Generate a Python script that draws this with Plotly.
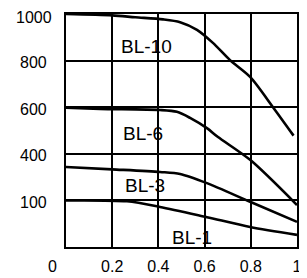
import numpy as np
import plotly.graph_objects as go

# ---- data ----
x_ticks = [0.2, 0.4, 0.6, 0.8, 1]
x_tick_labels = ["0.2", "0.4", "0.6", "0.8", "1"]
y_tick_values = [0, 100, 400, 600, 800, 1000]          # nonlinear, evenly spaced gridlines
y_tick_labels = ["", "100", "400", "600", "800", "1000"]

bl10_x = [0, 0.2, 0.3, 0.42, 0.494, 0.567, 0.636, 0.71, 0.797, 0.896, 0.985]
bl10_y = [1000, 994, 986, 977, 965, 932, 876, 802, 730, 600, 478]

bl6_x = [0, 0.147, 0.407, 0.48, 0.537, 0.61, 0.658, 0.797, 1.0]
bl6_y = [598, 593, 588, 580, 554, 510, 472, 361, 90]

bl3_x = [0, 0.2, 0.407, 0.494, 0.61, 0.797, 1.0]
bl3_y = [315, 300, 283, 270, 211, 97, 54]

bl1_x = [0, 0.264, 0.407, 0.61, 0.797, 1.0]
bl1_y = [100, 98, 86, 64, 43, 26]

series = [("BL-10", bl10_x, bl10_y), ("BL-6", bl6_x, bl6_y),
          ("BL-3", bl3_x, bl3_y), ("BL-1", bl1_x, bl1_y)]

label_x = {"BL-10": 0.35, "BL-6": 0.335, "BL-3": 0.34, "BL-1": 0.545}
label_grid = {"BL-10": 4.3, "BL-6": 2.43, "BL-3": 1.31, "BL-1": 0.21}

grid_pos = np.arange(len(y_tick_values))
N_GRID = grid_pos[-1]


def to_pos(v):
    return np.interp(v, y_tick_values, grid_pos)


FONT = "Liberation Sans, Arial, sans-serif"

fig = go.Figure()
for name, xs, ys in series:
    fig.add_trace(go.Scatter(x=xs, y=to_pos(ys), mode="lines", name=name,
                             line=dict(color="black", width=2.6, shape="spline", smoothing=0.8),
                             showlegend=False, hoverinfo="skip", cliponaxis=False))

annotations = []
for name, _, _ in series:
    annotations.append(dict(x=label_x[name], y=label_grid[name] / N_GRID, xref="paper", yref="paper",
                            text=name, showarrow=False, xanchor="center", yanchor="middle",
                            font=dict(family=FONT, size=19, color="black")))
# y tick labels (centered column, sitting a little below their gridlines)
for p, t in zip(grid_pos, y_tick_labels):
    if t:
        annotations.append(dict(x=-0.139, y=p / N_GRID, xref="paper", yref="paper", text=t,
                                showarrow=False, xanchor="center", yanchor="middle",
                                yshift=-3 if t == "1000" else -2, borderpad=0,
                                font=dict(family=FONT, size=16, color="black")))
# x origin label "0" sits left of the corner
annotations.append(dict(x=-0.06, y=-0.41 / N_GRID, xref="paper", yref="paper", text="0",
                        showarrow=False, xanchor="center", yanchor="middle",
                        font=dict(family=FONT, size=16, color="black")))

# page body keeps an 8px margin, so the figure is sized to fit inside the window
fig.update_layout(
    width=299, height=270,
    margin=dict(l=58, r=10, t=6, b=31, autoexpand=False),
    paper_bgcolor="white", plot_bgcolor="white",
    annotations=annotations,
    font=dict(family=FONT, size=16, color="black"),
)
fig.update_xaxes(range=[0, 1], tickvals=x_ticks, ticktext=x_tick_labels,
                 showgrid=True, gridcolor="black", gridwidth=1.6,
                 showline=True, linecolor="black", linewidth=2, mirror=True,
                 zeroline=False, ticks="", tickfont=dict(family=FONT, size=16, color="black"),
                 ticklabelstandoff=4, automargin=False, fixedrange=True)
fig.update_yaxes(range=[0, 5], tickvals=list(grid_pos), showticklabels=False,
                 showgrid=True, gridcolor="black", gridwidth=1.6,
                 showline=True, linecolor="black", linewidth=2, mirror=True,
                 zeroline=False, ticks="", automargin=False, fixedrange=True)

fig.write_html("out.html", config={"displayModeBar": False})
